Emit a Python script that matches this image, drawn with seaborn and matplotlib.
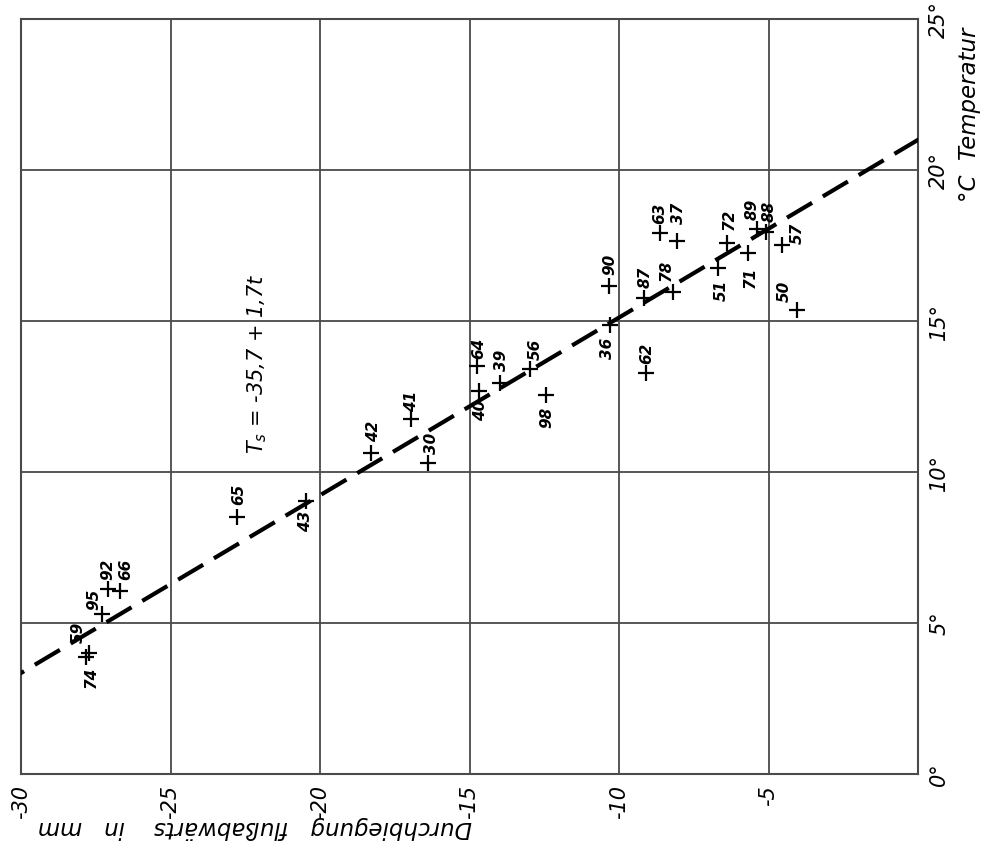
import matplotlib
matplotlib.use("Agg")
import matplotlib.pyplot as plt
import seaborn as sns
import numpy as np
import pandas as pd

# ---------------- data ----------------
point_ids = ["74", "59", "95", "92", "66", "65", "43", "42", "41", "30",
             "64", "40", "39", "56", "98", "36", "90", "87", "62", "78",
             "63", "37", "51", "72", "71", "89", "88", "57", "50"]
deflection_mm = [-27.84, -27.73, -27.30, -27.08, -26.69, -22.79, -20.47, -18.30, -16.97, -16.38,
                 -14.76, -14.67, -13.98, -12.98, -12.44, -10.30, -10.32, -9.16, -9.10, -8.18,
                 -8.63, -8.07, -6.68, -6.40, -5.68, -5.38, -5.08, -4.56, -4.06]
temperature_c = [3.87, 4.02, 5.31, 6.12, 6.08, 8.53, 9.06, 10.65, 11.75, 10.29,
                 13.52, 12.70, 12.94, 13.41, 12.56, 14.87, 16.16, 15.76, 13.27, 15.97,
                 17.91, 17.66, 16.75, 17.58, 17.25, 18.05, 17.95, 17.52, 15.37]

# regression line  T_s = a + b t
fit_a = -35.7
fit_b = 1.7

x_ticks = [-30, -25, -20, -15, -10, -5]
x_tick_labels = ["-30", "-25", "-20", "-15", "-10", "-5"]
y_ticks = [0, 5, 10, 15, 20, 25]
y_tick_labels = ["0°", "5°", "10°", "15°", "20°", "25°"]

x_label = "Durchbiegung   flußabwärts    in   mm"
y_label = "°C  Temperatur"
equation = r"$T_{s}$ = -35,7 + 1,7$t$"

# label offsets (pixels: right, down) -- layout only
label_offsets_px = [(6, 20), (-11, -20), (-8, -14), (0, -20), (6, -21), (2, -22), (0, 21),
                    (3, -21), (1, -18), (3, -20), (2, -17), (1, 20), (2, -23), (5, -20),
                    (1, 23), (-3, 23), (0, -22), (1, -21), (1, -20), (-7, -21), (0, -20),
                    (2, -27), (3, 22), (3, -24), (2, 24), (-5, -20), (3, -21), (16, -12),
                    (-12, -19)]

df = pd.DataFrame({"id": point_ids, "x": deflection_mm, "t": temperature_c})

t_line = np.array([0.0, 25.0])
line_df = pd.DataFrame({"t": t_line, "x": fit_a + fit_b * t_line})

# ---------------- plot ----------------
sns.set_style("white")
plt.rcParams["font.family"] = ["DejaVu Sans"]
plt.rcParams["text.color"] = "black"
plt.rcParams["xtick.color"] = "black"
plt.rcParams["ytick.color"] = "black"

fig = plt.figure(figsize=(9.87, 8.60), dpi=100)
ax = fig.add_axes([21 / 987, 1 - 774.3 / 860, (918 - 21) / 987, (774.3 - 19) / 860])

ax.set_xlim(-30, 0)
ax.set_ylim(0, 25)

# grid
for xv in x_ticks[1:]:
    ax.axvline(xv, color="#4a4a4a", lw=1.3, zorder=1)
for yv in y_ticks[1:-1]:
    ax.axhline(yv, color="#4a4a4a", lw=1.3, zorder=1)
for sp in ax.spines.values():
    sp.set_color("#4a4a4a")
    sp.set_linewidth(1.5)

# regression line
sns.lineplot(data=line_df, x="x", y="t", ax=ax, color="black", lw=3.0,
             estimator=None, sort=False, zorder=3)
ax.lines[-1].set_dashes([7, 3])

# points
sns.scatterplot(data=df, x="x", y="t", ax=ax, marker="+", s=130, color="black",
                linewidth=1.6, zorder=4, legend=False)

for pid, xv, tv, (dx, dy) in zip(point_ids, deflection_mm, temperature_c, label_offsets_px):
    ax.annotate(pid, (xv, tv), xytext=(dx * 0.72, -dy * 0.72), textcoords="offset points",
                ha="center", va="center", rotation=90, fontsize=11, fontweight="bold",
                style="italic", color="black", zorder=5)

ax.text(-22.1, 13.6, equation, rotation=90, ha="center", va="center",
        fontsize=15, style="italic", color="black")

# ticks
ax.set_xticks(x_ticks)
ax.set_xticklabels(x_tick_labels, rotation=90, fontsize=15, style="italic", color="black")
ax.set_yticks(y_ticks)
ax.set_yticklabels(y_tick_labels, rotation=90, fontsize=15, style="italic", va="center",
                   color="black")
ax.yaxis.tick_right()
ax.tick_params(axis="x", length=0, pad=8)
ax.tick_params(axis="y", length=0, pad=8)
ax.set_xlabel("")
ax.set_ylabel("")

fig.text(255 / 987, 1 - 828 / 860, x_label, rotation=180, ha="center", va="center",
         fontsize=16.5, style="italic", color="black")
fig.text(970 / 987, 1 - 115 / 860, y_label, rotation=90, ha="center", va="center",
         fontsize=16.5, style="italic", color="black")

fig.savefig("out.png", dpi=100)
